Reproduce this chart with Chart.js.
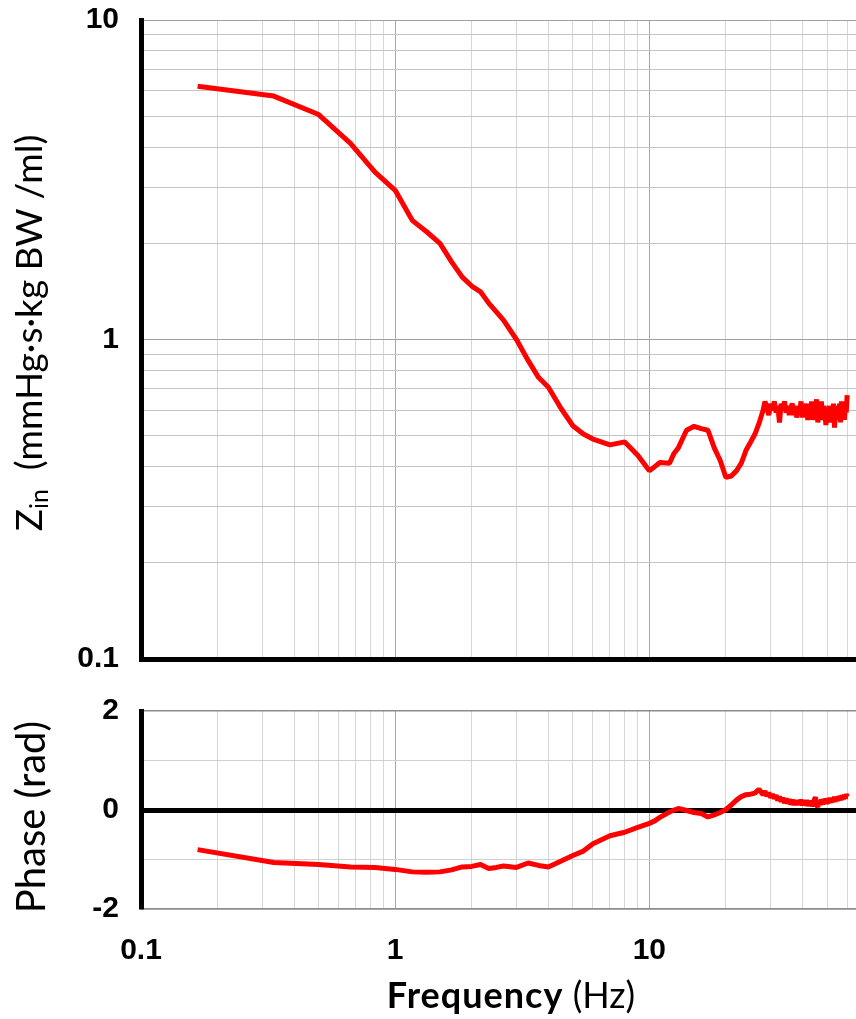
<!DOCTYPE html>
<html>
<head>
<meta charset="utf-8">
<script src="https://cdn.jsdelivr.net/npm/chart.js@4.4.1/dist/chart.umd.min.js"></script>
<style>
  html, body { margin: 0; padding: 0; background: #fff; overflow: hidden; }
  #page { position: relative; width: 856px; height: 1019px; }
  .box { position: absolute; left: 0; width: 856px; }
  #topBox { top: 0; height: 700px; }
  #botBox { top: 680px; height: 339px; }
  .ttl { position: absolute; font-family: Lato, "Open Sans", sans-serif; color: #000;
         white-space: nowrap; line-height: 1; }
  .vert { transform: translate(-50%, -50%) rotate(-90deg); }
  #zTitle { left: 30px; top: 333px; font-size: 37px; }
  #zTitle sub { font-size: 25px; vertical-align: -6px; }
  #phTitle { left: 30px; top: 817px; font-size: 40px; }
  #fTitle { left: 511px; top: 976px; transform: translate(-50%, 0); font-size: 36px; }
  #fTitle b { font-weight: 700; letter-spacing: 1px; }
</style>
</head>
<body>
<div id="page">
  <div class="box" id="topBox"><canvas id="zinChart" width="856" height="700"></canvas></div>
  <div class="box" id="botBox"><canvas id="phaseChart" width="856" height="339"></canvas></div>
  <div class="ttl vert" id="zTitle">Z<sub>in</sub>&nbsp; (mmHg·s·kg BW /ml)</div>
  <div class="ttl vert" id="phTitle">Phase (rad)</div>
  <div class="ttl" id="fTitle"><b>Frequency</b> (Hz)</div>
</div>
<script>
// Input impedance spectrum: frequency (Hz), modulus and phase
const freqHz = [
  0.167, 0.333, 0.5, 0.667, 0.833, 1.0, 1.167, 1.333, 1.5, 1.667, 1.833, 2.0,
  2.167, 2.333, 2.5, 2.667, 3.0, 3.333, 3.667, 4.0, 4.5, 5.0, 5.5, 6.0,
  7, 8, 9, 10, 10.5, 11, 12, 12.5, 13, 14, 15, 16, 17, 18, 19, 20,
  21, 22, 23, 24, 25, 26, 27,
  28, 28.5, 29, 29.5, 30, 30.5, 31, 31.5, 32, 32.5, 33, 33.5, 34, 34.5, 35, 35.5,
  36, 36.5, 37, 37.5, 38, 38.5, 39, 39.5, 40, 40.5, 41, 41.5, 42, 42.5, 43, 43.5,
  44, 44.5, 45, 45.5, 46, 46.5, 47, 47.5, 48, 48.5, 49, 49.5, 50, 50.5, 51, 51.5,
  52, 52.5, 53, 53.5, 54, 54.5, 55, 55.5, 56, 56.5, 57, 57.5, 58, 58.5, 59, 59.5, 60
];
const zinModulus = [
  6.2, 5.78, 5.06, 4.11, 3.34, 2.93, 2.36, 2.17, 2.0, 1.75, 1.57, 1.47,
  1.41, 1.30, 1.22, 1.15, 1.0, 0.86, 0.76, 0.71, 0.607, 0.537, 0.506, 0.488,
  0.468, 0.478, 0.434, 0.388, 0.40, 0.412, 0.41, 0.44, 0.458, 0.52, 0.535, 0.526, 0.52, 0.458, 0.418, 0.37,
  0.374, 0.388, 0.41, 0.45, 0.477, 0.505, 0.546,
  0.60, 0.64, 0.61, 0.58, 0.63, 0.60, 0.64, 0.59, 0.62, 0.55, 0.63, 0.60, 0.64, 0.59, 0.62, 0.58,
  0.61, 0.63, 0.58, 0.62, 0.57, 0.61, 0.59, 0.64, 0.57, 0.62, 0.59, 0.63, 0.56, 0.60, 0.58, 0.64,
  0.56, 0.62, 0.58, 0.65, 0.55, 0.61, 0.57, 0.64, 0.56, 0.62, 0.59, 0.54, 0.60, 0.57, 0.62, 0.55,
  0.60, 0.57, 0.63, 0.53, 0.61, 0.56, 0.62, 0.57, 0.63, 0.55, 0.64, 0.58, 0.62, 0.56, 0.64, 0.59, 0.67
];
const zinPhase = [
  -0.80, -1.06, -1.10, -1.15, -1.16, -1.20, -1.25, -1.26, -1.25, -1.21, -1.15, -1.14,
  -1.10, -1.18, -1.16, -1.13, -1.16, -1.07, -1.12, -1.15, -1.03, -0.92, -0.83, -0.68,
  -0.52, -0.45, -0.35, -0.27, -0.22, -0.15, -0.04, 0.0, 0.03, -0.01, -0.05, -0.07, -0.14, -0.10, -0.05, 0.01,
  0.10, 0.20, 0.27, 0.31, 0.32, 0.34, 0.42,
  0.31, 0.38, 0.28, 0.35, 0.25, 0.32, 0.23, 0.30, 0.19, 0.27, 0.17, 0.25, 0.14, 0.23, 0.13, 0.22,
  0.11, 0.21, 0.10, 0.20, 0.10, 0.19, 0.11, 0.21, 0.09, 0.19, 0.10, 0.20, 0.08, 0.18, 0.09, 0.19,
  0.07, 0.20, 0.26, 0.10, 0.06, 0.18, 0.10, 0.21, 0.11, 0.22, 0.13, 0.23, 0.12, 0.24, 0.14, 0.25,
  0.15, 0.24, 0.16, 0.27, 0.17, 0.26, 0.18, 0.28, 0.19, 0.29, 0.20, 0.30, 0.22, 0.31, 0.23, 0.32, 0.27
];

// Axis ranges and tick values
const freqRange = [0.1, 65];
const freqGrid = [0.1,0.2,0.3,0.4,0.5,0.6,0.7,0.8,0.9,1,2,3,4,5,6,7,8,9,10,20,30,40,50,60];
const freqLabels = [0.1, 1, 10];
const zinRange = [0.1, 10];
const zinGrid = [0.1,0.2,0.3,0.4,0.5,0.6,0.7,0.8,0.9,1,2,3,4,5,6,7,8,9,10];
const zinLabels = [0.1, 1, 10];
const phaseRange = [-2, 2];
const phaseGrid = [-2, -1, 0, 1, 2];
const phaseLabels = [-2, 0, 2];

const tickFont = { family: '"Liberation Sans", Arial, sans-serif', size: 30, weight: 'bold' };
const isDecade = v => Math.abs(Math.log10(v) - Math.round(Math.log10(v))) < 1e-6;
const fixedTicks = list => scale => { scale.ticks = list.map(v => ({ value: v })); };
const labelFrom = list => v => (list.some(l => Math.abs(l - v) < 1e-9) ? String(v) : '');
// fixed axis box sizes; no extra room reserved for overhanging labels
const fixSize = (w, h) => s => {
  if (w !== null) s.width = w;
  if (h !== null) s.height = h;
  s.paddingTop = 0; s.paddingBottom = 0; s.paddingLeft = 0; s.paddingRight = 0;
};

const pts = ys => freqHz.map((f, i) => ({ x: f, y: ys[i] }));
const lineStyle = { borderColor: '#ff0000', borderWidth: 5, pointRadius: 0, tension: 0,
                    fill: false, showLine: true, borderJoinStyle: 'bevel', borderCapStyle: 'butt' };

function freqAxis(showLabels, bottomBorder, height) {
  return {
    type: 'logarithmic', min: freqRange[0], max: freqRange[1],
    afterBuildTicks: fixedTicks(freqGrid),
    afterFit: fixSize(null, height),
    ticks: { display: showLabels, autoSkip: false, maxRotation: 0, minRotation: 0,
             callback: labelFrom(freqLabels), font: tickFont, color: '#000', padding: 24 },
    grid: { drawTicks: false, lineWidth: 1,
            color: c => (c.tick && isDecade(c.tick.value)) ? '#a6a6a6' : '#d6d6d6' },
    border: bottomBorder
  };
}

new Chart(document.getElementById('zinChart'), {
  type: 'scatter',
  data: { datasets: [Object.assign({ data: pts(zinModulus) }, lineStyle)] },
  options: {
    responsive: false, animation: false, events: [],
    layout: { padding: { top: 20, left: 0, right: 0, bottom: 0 } },
    plugins: { legend: { display: false }, tooltip: { enabled: false } },
    scales: {
      x: freqAxis(false, { color: '#000', width: 5 }, 41),
      y: {
        type: 'logarithmic', min: zinRange[0], max: zinRange[1],
        afterBuildTicks: fixedTicks(zinGrid),
        afterFit: fixSize(141, null),
        ticks: { autoSkip: false, callback: labelFrom(zinLabels), font: tickFont, color: '#000', padding: 22 },
        grid: { drawTicks: false, lineWidth: 1,
                color: c => (c.tick && isDecade(c.tick.value)) ? '#a0a0a0' : '#c4c4c4' },
        border: { color: '#000', width: 5 }
      }
    }
  }
});

new Chart(document.getElementById('phaseChart'), {
  type: 'scatter',
  data: { datasets: [Object.assign({ data: pts(zinPhase) }, lineStyle)] },
  options: {
    responsive: false, animation: false, events: [],
    layout: { padding: { top: 31, left: 0, right: 0, bottom: 0 } },
    plugins: { legend: { display: false }, tooltip: { enabled: false } },
    scales: {
      x: freqAxis(true, { color: '#8c8c8c', width: 1.5 }, 110),
      y: {
        type: 'linear', min: phaseRange[0], max: phaseRange[1],
        afterBuildTicks: fixedTicks(phaseGrid),
        afterFit: fixSize(141, null),
        ticks: { autoSkip: false, callback: labelFrom(phaseLabels), font: tickFont, color: '#000', padding: 22 },
        grid: { drawTicks: false,
                lineWidth: c => (c.tick && c.tick.value === 0) ? 5 : (c.tick && Math.abs(c.tick.value) === 2 ? 1.5 : 1),
                color: c => (c.tick && c.tick.value === 0) ? '#000'
                          : (c.tick && Math.abs(c.tick.value) === 2 ? '#8c8c8c' : '#d0d0d0') },
        border: { color: '#000', width: 5 }
      }
    }
  }
});
</script>
</body>
</html>
